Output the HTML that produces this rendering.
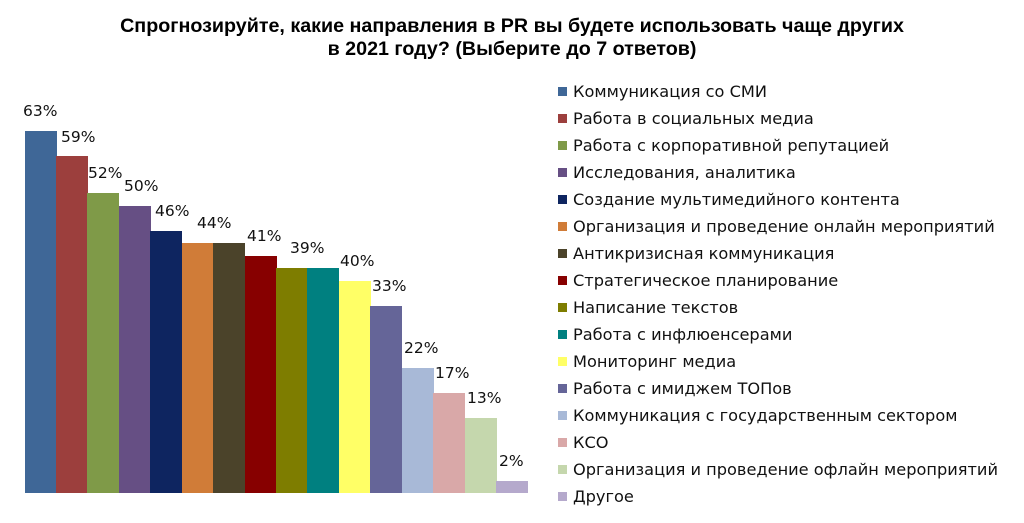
<!DOCTYPE html>
<html><head><meta charset="utf-8"><style>
body{margin:0;width:1024px;height:523px;background:#fff;font-family:"Liberation Sans","DejaVu Sans",sans-serif;overflow:hidden;position:relative}
.t{position:absolute;left:0;width:1024px;text-align:center;font-weight:bold;font-size:19.7px;color:#000;top:15px;line-height:23px}
.b{position:absolute}
.l{position:absolute;font-family:"DejaVu Sans",sans-serif;font-size:15.5px;line-height:18px;color:#111;white-space:nowrap}
.lg{position:absolute;left:558px;font-family:"DejaVu Sans",sans-serif;font-size:16.2px;line-height:18px;color:#111;white-space:nowrap}
.lg i{display:inline-block;width:9px;height:9px;margin-right:6px;vertical-align:1px}
</style></head><body>
<div class="t">Спрогнозируйте, какие направления в PR вы будете использовать чаще других<br>в 2021 году? (Выберите до 7 ответов)</div>
<div id="c"></div>
<script>
var bars=[[25,131,'#3f6797','63%',23],[56,156,'#9c3f3d','59%',61],[87,193,'#7f9a48','52%',88],[119,206,'#664f84','50%',124],[150,231,'#0e2560','46%',155],[182,243,'#d07c38','44%',197],[213,243,'#4b432a',''],[245,256,'#870000','41%',247],[276,268,'#7e7d00','39%',290],[307,268,'#008080',''],[339,281,'#ffff66','40%',340],[370,306,'#656598','33%',372],[402,368,'#a8b9d7','22%',404],[433,393,'#d9a8a8','17%',435],[465,418,'#c5d7ad','13%',467],[496,481,'#b5a9cc','2%',499]];
var h='';
bars.forEach(function(b,i){h+='<div class="b" style="left:'+b[0]+'px;width:31.5px;top:'+b[1]+'px;height:'+(493-b[1])+'px;background:'+b[2]+'"></div>';
if(b[3]){var ly=b[1]-29;if(i==1)ly=b[1]-28;
h+='<div class="l" style="left:'+b[4]+'px;top:'+ly+'px">'+b[3]+'</div>';}});
var leg=['Коммуникация со СМИ','Работа в социальных медиа','Работа с корпоративной репутацией','Исследования, аналитика','Создание мультимедийного контента','Организация и проведение онлайн мероприятий','Антикризисная коммуникация','Стратегическое планирование','Написание текстов','Работа с инфлюенсерами','Мониторинг медиа','Работа с имиджем ТОПов','Коммуникация с государственным сектором','КСО','Организация и проведение офлайн мероприятий','Другое'];
leg.forEach(function(t,i){h+='<div class="lg" style="top:'+(83+i*27)+'px"><i style="background:'+bars[i][2]+'"></i>'+t+'</div>';});
document.getElementById('c').innerHTML=h;
</script>
</body></html>
